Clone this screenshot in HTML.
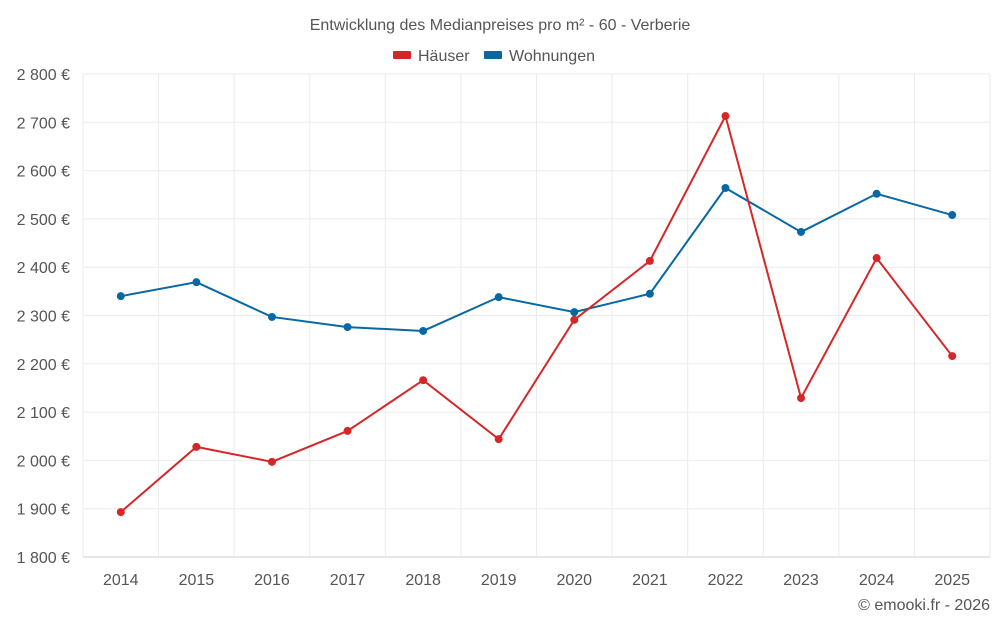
<!DOCTYPE html>
<html><head><meta charset="utf-8"><style>
body{margin:0;background:#fff;font-family:"Liberation Sans",sans-serif;}
svg text{font-family:"Liberation Sans",sans-serif;}
</style></head><body>
<svg id="chart" width="1000" height="625">
<text x="500" y="30" text-anchor="middle" font-size="16" fill="#555">Entwicklung des Medianpreises pro m² - 60 - Verberie</text>
<g>
<g><rect x="393" y="51" width="18" height="8" rx="1" fill="#d62728"/><text x="418" y="61" font-size="16" fill="#555">Häuser</text></g>
<g><rect x="484" y="51" width="18" height="8" rx="1" fill="#0868a3"/><text x="509" y="61" font-size="16" fill="#555">Wohnungen</text></g>
</g>
<g id="grid"></g><g id="axes"></g><g id="series"></g>
<text x="990" y="610" text-anchor="end" font-size="16" fill="#555">© emooki.fr - 2026</text>
</svg>
<script>
const years=[2014,2015,2016,2017,2018,2019,2020,2021,2022,2023,2024,2025];
const haeuser=[1893,2028,1997,2061,2166,2044,2291,2413,2713,2129,2419,2216];
const wohnungen=[2340,2369,2297,2276,2268,2338,2307,2345,2564,2473,2552,2508];
const yTicks=[1800,1900,2000,2100,2200,2300,2400,2500,2600,2700,2800];
const L=83,R=990,T=74,B=557,yMin=1800,yMax=2800;
const step=(R-L)/years.length;
const xS=i=>L+step*(i+0.5);
const yS=v=>B-(v-yMin)/(yMax-yMin)*(B-T);
const NS="http://www.w3.org/2000/svg";
function mk(tag,attrs,parent){const e=document.createElementNS(NS,tag);for(const k in attrs)e.setAttribute(k,attrs[k]);parent.appendChild(e);return e;}
const grid=document.getElementById('grid'),axes=document.getElementById('axes'),ser=document.getElementById('series');
yTicks.forEach(t=>{
 const l=mk('line',{x1:L,x2:R,y1:yS(t),y2:yS(t),stroke:t===yMin?'#ccc':'#ebebeb'},grid);
 
 
 const tx=mk('text',{x:70,y:yS(t)+6,'text-anchor':'end','font-size':16,fill:'#555'},axes);
 tx.textContent=t.toLocaleString('fr-FR').replace(/\s/g,' ')+' €';
 
 
});
for(let i=0;i<=years.length;i++){
 const x=L+step*i;
 const l=mk('line',{x1:x,x2:x,y1:T,y2:B,stroke:'#ebebeb'},grid);
 
 
}
years.forEach((y,i)=>{
 const tx=mk('text',{x:xS(i),y:585,'text-anchor':'middle','font-size':16,fill:'#555'},axes);
 tx.textContent=y;
 
 
});
function draw(vals,color,name){
 const p=mk('polyline',{points:vals.map((v,i)=>xS(i)+','+yS(v)).join(' '),fill:'none',stroke:color,'stroke-width':2},ser);
 
 
 vals.forEach((v,i)=>{
  const c=mk('circle',{cx:xS(i),cy:yS(v),r:4,fill:color},ser);
  
  
 });
}
draw(wohnungen,'#0868a3','wohnungen');
draw(haeuser,'#d62728','haeuser');
</script>
</body></html>
